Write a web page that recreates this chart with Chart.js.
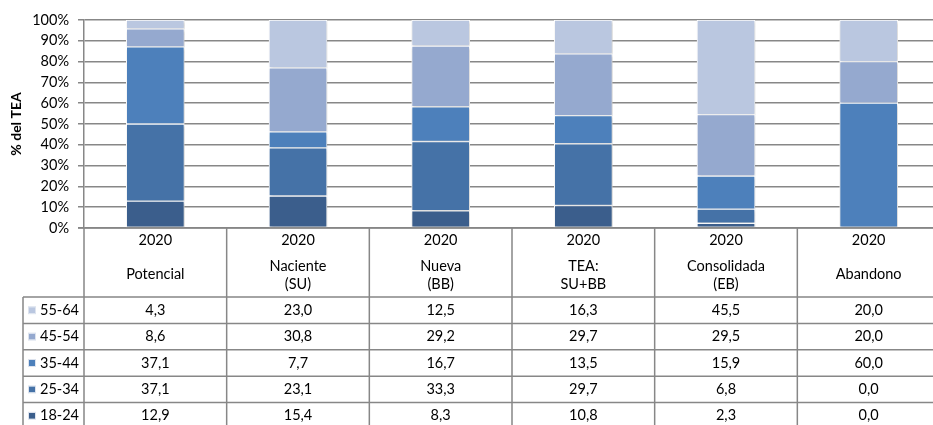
<!DOCTYPE html>
<html>
<head>
<meta charset="utf-8">
<script src="https://cdn.jsdelivr.net/npm/chart.js@4.4.1/dist/chart.umd.min.js"></script>
<style>
  html, body { margin: 0; padding: 0; background: #fff; overflow: hidden; }
  #wrap { position: relative; width: 941px; height: 425px; }
</style>
</head>
<body>
<div id="wrap"><canvas id="chart1"></canvas></div>
<script>
// data
var years = ['2020', '2020', '2020', '2020', '2020', '2020'];
var categories = [['Potencial'], ['Naciente', '(SU)'], ['Nueva', '(BB)'], ['TEA:', 'SU+BB'], ['Consolidada', '(EB)'], ['Abandono']];
var ages = ['18-24', '25-34', '35-44', '45-54', '55-64'];
var v18_24 = [12.9, 15.4, 8.3, 10.8, 2.3, 0.0];
var v25_34 = [37.1, 23.1, 33.3, 29.7, 6.8, 0.0];
var v35_44 = [37.1, 7.7, 16.7, 13.5, 15.9, 60.0];
var v45_54 = [8.6, 30.8, 29.2, 29.7, 29.5, 20.0];
var v55_64 = [4.3, 23.0, 12.5, 16.3, 45.5, 20.0];
var yTicks = [0, 10, 20, 30, 40, 50, 60, 70, 80, 90, 100];

var colors = ['#3b5e8c', '#4572a7', '#4d80bb', '#95a9cf', '#bac7e0'];
var series = [v18_24, v25_34, v35_44, v45_54, v55_64];
var FONT = 'Lato, "Liberation Sans", sans-serif';
var gridColor = '#878787';

function fmt(v) {
    return v.toFixed(1).replace('.', ',');
}

// bar shadow
var shadowPlugin = {
    id: 'shadow',
    beforeDatasetsDraw: function(chart) {
        var c = chart.ctx;
        c.save();
        c.shadowColor = 'rgba(0,0,0,0.22)';
        c.shadowBlur = 3;
        c.shadowOffsetX = 1;
        c.shadowOffsetY = 1;
    },
    afterDatasetsDraw: function(chart) {
        chart.ctx.restore();
    }
};

// data table under the plot
var tablePlugin = {
    id: 'dataTable',
    afterDraw: function(chart) {
        var c = chart.ctx;
        var area = chart.chartArea;
        var x = chart.scales.x;
        var colW = (area.right - area.left) / categories.length;
        var top = area.bottom;
        var headBottom = top + 69;
        var rowH = 26.4;
        var legendLeft = 23;
        var bottom = chart.height + 5;

        c.save();
        c.strokeStyle = gridColor;
        c.lineWidth = 1.5;
        // horizontal lines
        c.beginPath();
        c.moveTo(area.left - 6, top);
        c.lineTo(area.right, top);
        for (var r = 0; r < 5; r++) {
            var yy = headBottom + r * rowH;
            c.moveTo(legendLeft, yy);
            c.lineTo(area.right, yy);
        }
        // vertical lines
        for (var i = 0; i <= categories.length; i++) {
            var xx = area.left + i * colW;
            c.moveTo(xx, top);
            c.lineTo(xx, bottom);
        }
        c.moveTo(legendLeft, headBottom);
        c.lineTo(legendLeft, bottom);
        c.stroke();

        c.fillStyle = '#000';
        c.font = '14.5px ' + FONT;
        c.textAlign = 'center';
        c.textBaseline = 'middle';
        for (var i = 0; i < categories.length; i++) {
            var cx = x.getPixelForValue(i);
            c.fillText(years[i], cx, top + 12);
            var lines = categories[i];
            if (lines.length === 1) {
                c.fillText(lines[0], cx, top + 46);
            } else {
                c.fillText(lines[0], cx, top + 38);
                c.fillText(lines[1], cx, top + 56);
            }
        }

        // rows, top row is the last series
        for (var r = 0; r < 5; r++) {
            var s = 4 - r;
            var cy = headBottom + r * rowH + rowH / 2;
            c.fillStyle = colors[s];
            c.fillRect(29, cy - 3, 6, 6);
            c.strokeStyle = '#dde3ee';
            c.lineWidth = 1;
            c.strokeRect(28.5, cy - 3.5, 7, 7);
            c.fillStyle = '#000';
            c.textAlign = 'left';
            c.fillText(ages[s], 40, cy);
            c.textAlign = 'center';
            for (var i = 0; i < categories.length; i++) {
                c.fillText(fmt(series[s][i]), x.getPixelForValue(i), cy);
            }
        }
        c.restore();
    }
};

var datasets = ages.map(function(a, k) {
    return {
        label: a,
        data: series[k],
        backgroundColor: colors[k],
        borderColor: '#ffffff',
        borderWidth: 1,
        borderSkipped: false
    };
});

var ctx = document.getElementById('chart1').getContext('2d');
var myChart = new Chart(ctx, {
    type: 'bar',
    data: {
        labels: years,
        datasets: datasets
    },
    plugins: [shadowPlugin, tablePlugin],
    options: {
        responsive: true,
        maintainAspectRatio: false,
        animation: false,
        barThickness: 58,
        layout: {
            padding: { top: 20, bottom: 197, left: 0, right: 1 }
        },
        plugins: {
            legend: { display: false },
            tooltip: { enabled: false }
        },
        scales: {
            x: {
                stacked: true,
                display: false
            },
            y: {
                stacked: true,
                min: 0,
                max: 100,
                afterFit: function(s) { s.width = 84; },
                afterBuildTicks: function(s) {
                    s.ticks = yTicks.map(function(v) { return { value: v }; });
                },
                ticks: {
                    padding: 9,
                    color: '#000',
                    font: { size: 14.5, family: FONT },
                    callback: function(v) { return v + '%'; }
                },
                grid: {
                    color: gridColor,
                    lineWidth: 1.5,
                    tickLength: 6
                },
                border: { color: gridColor, width: 1.5 },
                title: {
                    display: true,
                    text: '% del TEA',
                    color: '#000',
                    font: { size: 14, weight: 'bold', family: FONT },
                    padding: { top: 8, bottom: 0 }
                }
            }
        }
    }
});
</script>
</body>
</html>
